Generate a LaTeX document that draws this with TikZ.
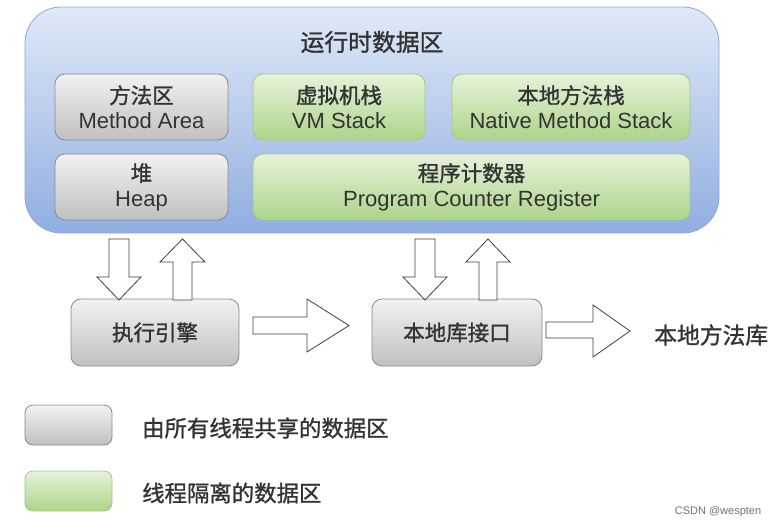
\documentclass[tikz,border=0pt]{standalone}
\usepackage{fontspec}
\setmainfont{Liberation Sans}
\newfontfamily\cjk[FakeBold=1.2]{Noto Sans CJK SC}
\definecolor{txt}{HTML}{333333}
\definecolor{outerTop}{HTML}{E0E9F8}
\definecolor{outerBot}{HTML}{90AEE0}
\definecolor{outerLine}{HTML}{8FA9D6}
\definecolor{grayTop}{HTML}{F2F2F2}
\definecolor{grayBot}{HTML}{C0C0C0}
\definecolor{grayLine}{HTML}{8A8A8A}
\definecolor{greenTop}{HTML}{E6F2DA}
\definecolor{greenBot}{HTML}{ADD48A}
\definecolor{greenLine}{HTML}{A3C887}
\begin{document}
\begin{tikzpicture}[x=1pt,y=-1pt,
  every node/.style={text=txt,inner sep=0pt},
  outerbox/.style={draw=outerLine,line width=0.8pt,rounded corners=36pt,top color=outerTop,bottom color=outerBot},
  graybox/.style={draw=grayLine,line width=0.8pt,rounded corners=10pt,top color=grayTop,bottom color=grayBot,align=center,font=\fontsize{22}{25}\selectfont},
  greenbox/.style={draw=greenLine,line width=0.8pt,rounded corners=10pt,top color=greenTop,bottom color=greenBot,align=center,font=\fontsize{22}{25}\selectfont},
  blockarrow/.style={draw=black!75,line width=0.8pt,fill=white,line join=miter},
  lbl/.style={font=\cjk\fontsize{22.4}{26}\selectfont}
]
\useasboundingbox (0,0) rectangle (782,528);
\fill[white] (0,0) rectangle (782,528);

% runtime data area
\node[outerbox,minimum width=694pt,minimum height=226pt] (rt) at (372,120) {};
\node[lbl,font=\cjk\fontsize{23.8}{28}\selectfont] (title) at (372,42) {运行时数据区};

\node[graybox,minimum width=173pt,minimum height=66pt] (ma) at (141.5,107) {{\cjk\fontsize{21.5}{25}\selectfont 方法区}\\Method Area};
\node[greenbox,minimum width=172pt,minimum height=66pt] (vm) at (339,107) {{\cjk\fontsize{21.5}{25}\selectfont 虚拟机栈}\\VM Stack};
\node[greenbox,minimum width=238pt,minimum height=66pt] (nms) at (571,107) {{\cjk\fontsize{21.5}{25}\selectfont 本地方法栈}\\Native Method Stack};
\node[graybox,minimum width=173pt,minimum height=66pt] (heap) at (141.5,187) {{\cjk\fontsize{21.5}{25}\selectfont 堆}\\Heap};
\node[greenbox,minimum width=437pt,minimum height=66pt] (pc) at (471.5,187) {{\cjk\fontsize{21.5}{25}\selectfont 程序计数器}\\Program Counter Register};

% bottom boxes
\node[graybox,minimum width=168pt,minimum height=67pt,font=\cjk\fontsize{21.5}{24}\selectfont] (ee) at (155,332.5) {执行引擎};
\node[graybox,minimum width=170pt,minimum height=67pt,font=\cjk\fontsize{21.5}{24}\selectfont] (nli) at (457,332.5) {本地库接口};
\node[lbl,font=\cjk\fontsize{22.8}{26}\selectfont,anchor=west] (nml) at (654,335) {本地方法库};

% block arrows: execution engine
\draw[blockarrow] (109,239) -- (129,239) -- (129,277) -- (141,277) -- (119,300) -- (97,277) -- (109,277) -- cycle;
\draw[blockarrow] (173,300) -- (192,300) -- (192,262) -- (205,262) -- (182.5,239) -- (160,262) -- (173,262) -- cycle;
% native interface
\draw[blockarrow] (415,239) -- (435,239) -- (435,277) -- (447,277) -- (425,300) -- (403,277) -- (415,277) -- cycle;
\draw[blockarrow] (479,300) -- (497,300) -- (497,262) -- (510,262) -- (488,239) -- (466,262) -- (479,262) -- cycle;
% horizontal arrows
\draw[blockarrow] (253,317) -- (307,317) -- (307,299) -- (349,325.5) -- (307,352) -- (307,334) -- (253,334) -- cycle;
\draw[blockarrow] (546,322) -- (593,322) -- (593,305) -- (630,331) -- (593,357) -- (593,338) -- (546,338) -- cycle;

% legend
\node[draw=grayLine,line width=0.8pt,rounded corners=8pt,top color=grayTop,bottom color=grayBot,minimum width=87pt,minimum height=40pt] (leg1) at (68.5,425) {};
\node[lbl,anchor=west] (leg1t) at (142,428) {由所有线程共享的数据区};
\node[draw=greenLine,line width=0.8pt,rounded corners=8pt,top color=greenTop,bottom color=greenBot,minimum width=87pt,minimum height=40pt] (leg2) at (68.5,491) {};
\node[lbl,anchor=west] (leg2t) at (142,493) {线程隔离的数据区};

\node[font=\fontsize{11}{13}\selectfont,text=black!55] (csdn) at (718,512) {CSDN @wespten};
\end{tikzpicture}
\end{document}
